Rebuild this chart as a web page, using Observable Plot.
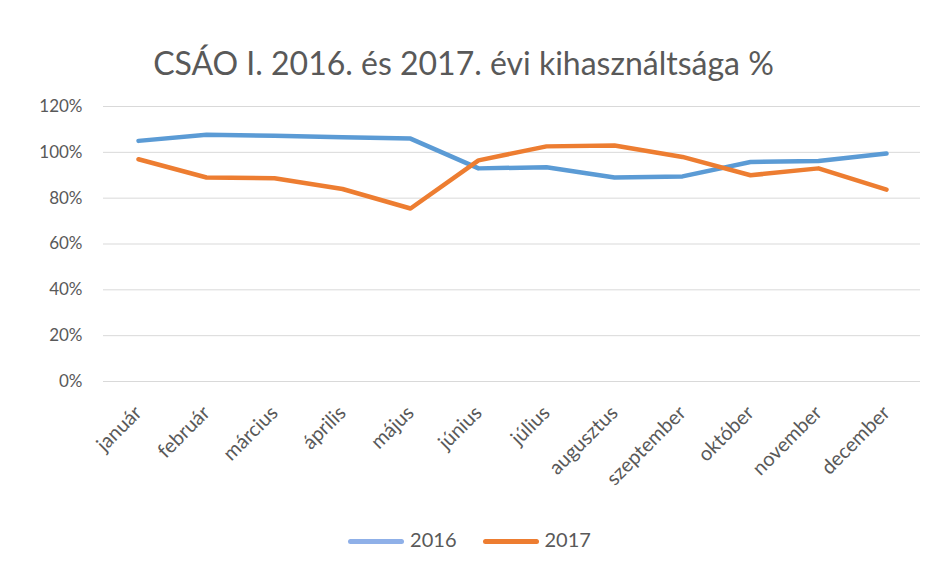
<!DOCTYPE html>
<html><head><meta charset="utf-8">
<script src="https://cdn.jsdelivr.net/npm/d3@7"></script>
<script src="https://cdn.jsdelivr.net/npm/@observablehq/plot@0.6"></script>
<style>
body{margin:0;background:#fff;font-family:Lato,"Open Sans",sans-serif;}
#wrap{width:939px;height:576px;position:relative;overflow:hidden;}
#title{position:absolute;top:43px;left:-6px;width:939px;text-align:center;font-size:32px;color:#595959;}
#chart{position:absolute;top:90px;left:0;}
#legend{position:absolute;top:527px;left:0;width:939px;display:flex;justify-content:center;gap:26px;font-size:20px;color:#595959;align-items:center;}
.sw{display:inline-block;width:56px;height:5px;border-radius:3px;margin-right:6px;vertical-align:middle;}
</style></head>
<body><div id="wrap">
<div id="title">CSÁO I. 2016. és 2017. évi kihasználtsága %</div>
<div id="chart"></div>
<div id="legend"><span><span class="sw" style="background:#8fb0e8"></span>2016</span><span><span class="sw" style="background:#ED7D31"></span>2017</span></div>
</div>
<script>
const months = ["január","február","március","április","május","június","július","augusztus","szeptember","október","november","december"];
const v2016 = [1.05,1.077,1.072,1.066,1.06,0.93,0.935,0.89,0.895,0.958,0.962,0.995];
const v2017 = [0.97,0.89,0.887,0.84,0.755,0.965,1.026,1.03,0.98,0.90,0.93,0.837];
const yTicks = [0,0.2,0.4,0.6,0.8,1.0,1.2];
const series = [{name:"2016",vals:v2016,color:"#5B9BD5"},{name:"2017",vals:v2017,color:"#ED7D31"}];
const data = series.flatMap(s => s.vals.map((v,i)=>({month:months[i],value:v,series:s.name})));
const chart = Plot.plot({
  width:939, height:420,
  marginLeft:103, marginRight:19, marginTop:16, marginBottom:129,
  style:{fontFamily:"Lato, 'Open Sans', sans-serif", fontSize:"17px", color:"#595959", background:"transparent"},
  x:{type:"point", domain:months, padding:0.5, label:null},
  y:{domain:[0,1.2], ticks:yTicks, label:null},
  color:{domain:series.map(s=>s.name), range:series.map(s=>s.color)},
  marks:[
    Plot.gridY(yTicks,{stroke:"#d9d9d9", strokeOpacity:1, strokeWidth:1}),
    Plot.axisY(yTicks,{tickFormat:d3.format(".0%"), tickSize:0, tickPadding:21, fontSize:17, fill:"#595959"}),
    Plot.axisX({tickSize:0, tickRotate:-45, fontSize:20, fill:"#595959", tickPadding:28}),
    Plot.line(data,{x:"month", y:"value", z:"series", stroke:"series", strokeWidth:4.5, strokeLinejoin:"round", strokeLinecap:"round"})
  ]
});
document.getElementById("chart").appendChild(chart);
</script>
</body></html>
